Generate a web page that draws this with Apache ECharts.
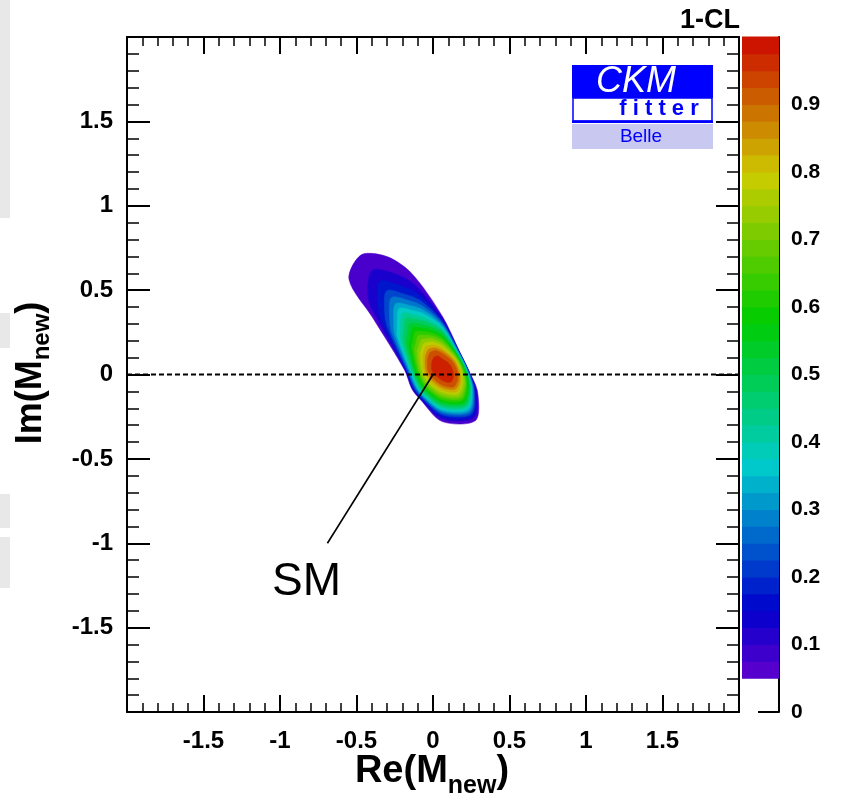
<!DOCTYPE html>
<html><head><meta charset="utf-8">
<script src="https://cdn.jsdelivr.net/npm/echarts@6/dist/echarts.min.js"></script>
<style>html,body{margin:0;padding:0;background:#fff}#c{width:844px;height:807px}</style>
</head><body><div id="c"></div><script>
// ---------------- data ----------------
// 1-CL contour levels; each contour is read off the picture as radii (in data units)
// along fixed rays (angles in degrees, data space) from the contour centre.
const contourLevels = [0.05,0.10,0.15,0.20,0.25,0.30,0.35,0.40,0.45,0.50,0.55,0.60,0.65,0.70,0.75,0.80,0.85,0.90,0.95];
const contourCenter = [0.06, 0.027];
const rayAngles = [0,42.2,90,109.1,118.2,127.8,138.6,145.8,180,209.5,230.4,270,306,330.5];
const r005 = [0.172,0.156,0.320,0.604,0.762,0.863,0.812,0.548,0.246,0.228,0.226,0.306,0.371,0.266];
const r010 = [0.171,0.155,0.308,0.529,0.645,0.747,0.646,0.497,0.242,0.223,0.222,0.290,0.351,0.256];
const r015 = [0.169,0.154,0.296,0.475,0.565,0.665,0.558,0.460,0.237,0.218,0.217,0.277,0.336,0.249];
const r020 = [0.168,0.152,0.286,0.435,0.508,0.593,0.500,0.426,0.231,0.213,0.212,0.265,0.324,0.242];
const r025 = [0.166,0.150,0.277,0.403,0.468,0.542,0.458,0.401,0.225,0.206,0.207,0.255,0.312,0.236];
const r030 = [0.164,0.148,0.267,0.375,0.432,0.497,0.423,0.375,0.218,0.200,0.201,0.245,0.300,0.230];
const r035 = [0.161,0.145,0.255,0.349,0.399,0.460,0.392,0.354,0.211,0.194,0.195,0.235,0.287,0.223];
const r040 = [0.158,0.141,0.243,0.323,0.367,0.424,0.362,0.331,0.205,0.187,0.189,0.225,0.275,0.217];
const r045 = [0.155,0.138,0.231,0.299,0.337,0.385,0.333,0.308,0.196,0.179,0.180,0.213,0.263,0.211];
const r050 = [0.152,0.135,0.217,0.275,0.309,0.348,0.306,0.285,0.187,0.170,0.172,0.201,0.251,0.204];
const r055 = [0.147,0.131,0.203,0.255,0.282,0.317,0.281,0.264,0.179,0.162,0.162,0.190,0.238,0.196];
const r060 = [0.143,0.127,0.190,0.235,0.258,0.286,0.256,0.242,0.168,0.153,0.152,0.178,0.224,0.187];
const r065 = [0.137,0.123,0.176,0.215,0.234,0.256,0.231,0.221,0.157,0.143,0.142,0.164,0.210,0.179];
const r070 = [0.131,0.116,0.160,0.196,0.210,0.225,0.206,0.198,0.146,0.132,0.129,0.150,0.194,0.168];
const r075 = [0.124,0.110,0.144,0.176,0.188,0.198,0.183,0.175,0.133,0.119,0.117,0.134,0.177,0.155];
const r080 = [0.116,0.102,0.128,0.156,0.165,0.174,0.160,0.152,0.120,0.106,0.103,0.119,0.159,0.143];
const r085 = [0.107,0.094,0.114,0.139,0.146,0.151,0.140,0.134,0.108,0.094,0.089,0.104,0.142,0.131];
const r090 = [0.096,0.083,0.098,0.122,0.127,0.130,0.121,0.116,0.094,0.081,0.075,0.089,0.125,0.116];
const r095 = [0.068,0.058,0.066,0.089,0.090,0.092,0.084,0.082,0.068,0.057,0.051,0.062,0.091,0.085];
const contourRadii = [r005,r010,r015,r020,r025,r030,r035,r040,r045,r050,r055,r060,r065,r070,r075,r080,r085,r090,r095];

// colour-bar bands (lower edges, width 0.025)
const paletteEdges = [0.05,0.075,0.1,0.125,0.15,0.175,0.2,0.225,0.25,0.275,0.3,0.325,0.35,0.375,0.4,0.425,0.45,0.475,0.5,0.525,0.55,0.575,0.6,0.625,0.65,0.675,0.7,0.725,0.75,0.775,0.8,0.825,0.85,0.875,0.9,0.925,0.95,0.975];
const paletteStep = 0.025;
const colorbarTicks = [0,0.1,0.2,0.3,0.4,0.5,0.6,0.7,0.8,0.9];

// Standard Model point and annotation
const smPoint = [0, 0];
const smLineEnd = [-0.69, -1.0];
const smLabelPos = [-0.827, -1.23];
const zeroLine = [[-2, 0], [2, 0]];

// ---------------- style helpers ----------------
const FONT = "'Liberation Sans', Arial, Helvetica, sans-serif";
function hsvColor(h){
  h = ((h % 360) + 360) % 360;
  const v = 0.8, hp = h/60, x = v*(1-Math.abs(hp%2-1));
  let r,g,b;
  if(hp<1){r=v;g=x;b=0}else if(hp<2){r=x;g=v;b=0}else if(hp<3){r=0;g=v;b=x}
  else if(hp<4){r=0;g=x;b=v}else if(hp<5){r=x;g=0;b=v}else{r=v;g=0;b=x}
  return 'rgb('+Math.round(r*255)+','+Math.round(g*255)+','+Math.round(b*255)+')';
}
function bandColor(lo){ const i = Math.round(lo/paletteStep); return hsvColor(265-(i-2)*7); }
function levelColor(L){ const i = Math.round(L/paletteStep); return hsvColor(265-(i-2)*7-3.5); }

const labelStyle = {color:'#000', fontWeight:'bold', fontFamily:FONT, fontSize:24};
const axisLineStyle = {onZero:false, lineStyle:{color:'#000', width:2}};

// axis titles with subscript, laid out with measured text widths (centre-aligned vertically)
const measureCtx = document.createElement('canvas').getContext('2d');
function textWidth(t, font){ measureCtx.font = font; return measureCtx.measureText(t).width; }
function subscriptTitle(mainText, subText, closeText, mainSize, subSize, subShift){
  const MF = 'bold '+mainSize+'px '+FONT, SF = 'bold '+subSize+'px '+FONT;
  const w1 = textWidth(mainText, MF), w2 = textWidth(subText, SF), w3 = textWidth(closeText, MF);
  const x0 = -(w1 + w2 + w3)/2;
  return [
    {type:'text', x:x0, y:0, style:{text:mainText, font:MF, fill:'#000', textAlign:'left', textVerticalAlign:'middle'}},
    {type:'text', x:x0+w1, y:subShift, style:{text:subText, font:SF, fill:'#000', textAlign:'left', textVerticalAlign:'middle'}},
    {type:'text', x:x0+w1+w2, y:0, style:{text:closeText, font:MF, fill:'#000', textAlign:'left', textVerticalAlign:'middle'}}
  ];
}
const xTitleParts = subscriptTitle('Re(M', 'new', ')', 38, 25, 14);
const yTitleParts = subscriptTitle('Im(M', 'new', ')', 36, 24, 11);

function frameAxis(extra){
  return Object.assign({
    type:'value', min:-2, max:2, interval:0.5,
    axisLine:axisLineStyle,
    splitLine:{show:false},
    axisLabel:{show:false}
  }, extra);
}

const chart = echarts.init(document.getElementById('c'), null, {renderer:'canvas'});
chart.setOption({
  animation:false,
  backgroundColor:'#fff',
  grid:[
    {left:127, top:37, width:612, height:675, containLabel:false, outerBoundsMode:'none'},
    {left:742, top:37, width:37, height:675, containLabel:false, outerBoundsMode:'none'}
  ],
  xAxis:[
    frameAxis({gridIndex:0, position:'bottom',
      axisTick:{inside:true, length:17, lineStyle:{color:'#000', width:2}},
      minorTick:{show:true, splitNumber:5, length:9, lineStyle:{color:'#000', width:1.5}},
      axisLabel:Object.assign({show:true, margin:17, showMinLabel:false, showMaxLabel:false}, labelStyle)
    }),
    frameAxis({gridIndex:0, position:'top',
      axisTick:{inside:true, length:17, lineStyle:{color:'#000', width:2}},
      minorTick:{show:true, splitNumber:5, length:9, lineStyle:{color:'#000', width:1.5}}
    }),
    {gridIndex:1, type:'value', min:0, max:1, show:false}
  ],
  yAxis:[
    frameAxis({gridIndex:0, position:'left',
      axisTick:{inside:true, length:23, lineStyle:{color:'#000', width:2}},
      minorTick:{show:true, splitNumber:5, length:12, lineStyle:{color:'#000', width:1.5}},
      axisLabel:Object.assign({show:true, margin:14, showMinLabel:false, showMaxLabel:false}, labelStyle)
    }),
    frameAxis({gridIndex:0, position:'right',
      axisTick:{inside:true, length:23, lineStyle:{color:'#000', width:2}},
      minorTick:{show:true, splitNumber:5, length:12, lineStyle:{color:'#000', width:1.5}}
    }),
    {gridIndex:1, type:'value', min:0, max:1, interval:0.1, position:'right',
      axisLine:{show:true, onZero:false, lineStyle:{color:'#000', width:2}},
      axisTick:{show:true, inside:true, length:21, customValues:colorbarTicks, lineStyle:{color:'#000', width:2}},
      axisLabel:{show:true, margin:12, customValues:colorbarTicks, color:'#000', fontWeight:'bold', fontFamily:FONT, fontSize:21,
        formatter:v=>String(Math.round(v*10)/10)},
      splitLine:{show:false}
    }
  ],
  graphic:[
    // light grey strips on the left edge of the picture
    {type:'rect', shape:{x:0,y:0,width:10,height:218}, style:{fill:'#e8e8e8'}, silent:true},
    {type:'rect', shape:{x:0,y:313,width:10,height:35}, style:{fill:'#e8e8e8'}, silent:true},
    {type:'rect', shape:{x:0,y:494,width:10,height:34}, style:{fill:'#e8e8e8'}, silent:true},
    {type:'rect', shape:{x:0,y:537,width:10,height:51}, style:{fill:'#e8e8e8'}, silent:true},
    // axis titles
    {type:'group', x:432, y:772, children:xTitleParts, silent:true},
    {type:'group', x:31, y:373, rotation:Math.PI/2, children:yTitleParts, silent:true},
    // colour-bar title
    {type:'text', x:740, y:21, style:{text:'1-CL', fill:'#000', font:'bold 27px '+FONT, textAlign:'right', textVerticalAlign:'middle'}},
    // CKMfitter / Belle logo
    {type:'rect', shape:{x:572,y:65,width:141,height:33}, style:{fill:'#0000ff'}, z:10},
    {type:'rect', shape:{x:573,y:98,width:139,height:23}, style:{fill:'#fff', stroke:'#0000ff', lineWidth:1.5}, z:10},
    {type:'rect', shape:{x:572,y:120.5,width:141,height:2.5}, style:{fill:'#0000ff'}, z:10},
    {type:'rect', shape:{x:572,y:124,width:141,height:25}, style:{fill:'#c8c8f0'}, z:10},
    {type:'text', x:636, y:82, z:11, style:{text:'CKM', fill:'#fff', font:'italic 36px '+FONT, textAlign:'center', textVerticalAlign:'middle'}},
    {type:'text', x:659, y:109, z:11, style:{text:'f i t t e r', fill:'#0000ff', font:'bold 22px '+FONT, textAlign:'center', textVerticalAlign:'middle'}},
    {type:'text', x:641, y:137, z:11, style:{text:'Belle', fill:'#0000ff', font:'19px '+FONT, textAlign:'center', textVerticalAlign:'middle'}}
  ],
  series:[
    {
      type:'custom', xAxisIndex:0, yAxisIndex:0, silent:true, z:2,
      data: contourLevels.map((L,k)=>[contourCenter[0], contourCenter[1], k]),
      encode:{x:0, y:1},
      renderItem:(params, api)=>{
        const k = api.value(2);
        const rs = contourRadii[k];
        const pts = rayAngles.map((a,j)=>{
          const t = a*Math.PI/180;
          return api.coord([contourCenter[0]+rs[j]*Math.cos(t), contourCenter[1]+rs[j]*Math.sin(t)]);
        });
        return {type:'polygon', z2:k, shape:{points:pts, smooth:0.3},
          style:{fill:levelColor(contourLevels[k]), stroke:levelColor(contourLevels[k]), lineWidth:0.5}};
      }
    },
    {
      type:'custom', xAxisIndex:2, yAxisIndex:2, silent:true, z:2,
      data: paletteEdges.map(lo=>[0.5, lo]),
      encode:{x:0, y:1},
      renderItem:(params, api)=>{
        const lo = api.value(1);
        const a = api.coord([0, lo+paletteStep]);
        const b = api.coord([1, lo]);
        return {type:'rect', shape:{x:a[0], y:a[1]-0.4, width:b[0]-a[0], height:b[1]-a[1]+0.8},
          style:{fill:bandColor(lo)}};
      }
    },
    {
      type:'line', xAxisIndex:0, yAxisIndex:0, data:zeroLine, symbol:'none', silent:true, z:5,
      lineStyle:{color:'#000', width:2.2, type:[5,3]}
    },
    {
      type:'line', xAxisIndex:0, yAxisIndex:0, data:[smPoint, smLineEnd], symbol:'none', silent:true, z:5,
      lineStyle:{color:'#000', width:1.6}
    },
    {
      type:'custom', xAxisIndex:0, yAxisIndex:0, silent:true, z:6,
      data:[smLabelPos],
      encode:{x:0, y:1},
      renderItem:(params, api)=>{
        const p = api.coord([api.value(0), api.value(1)]);
        return {type:'text', x:p[0], y:p[1], style:{text:'SM', fill:'#000', font:'46px '+FONT, textAlign:'center', textVerticalAlign:'middle'}};
      }
    }
  ]
});
</script></body></html>
